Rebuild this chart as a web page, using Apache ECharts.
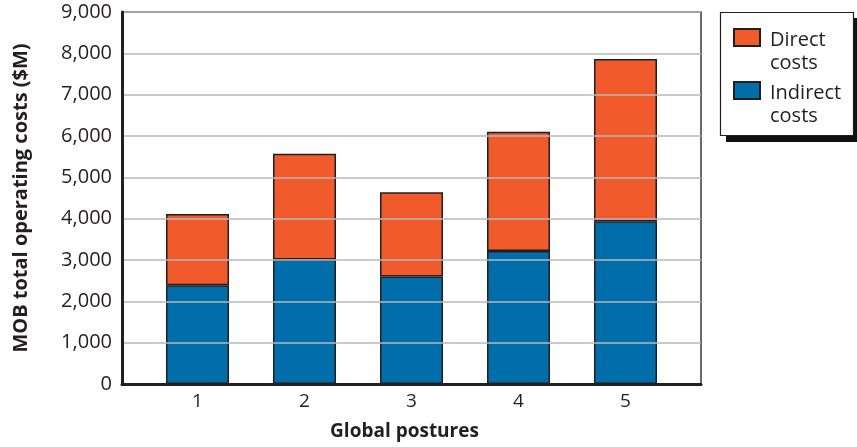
<!DOCTYPE html>
<html>
<head>
<meta charset="utf-8">
<script src="https://cdn.jsdelivr.net/npm/echarts@6/dist/echarts.min.js"></script>
<style>
html,body{margin:0;padding:0;background:#fff;}
#chart{width:857px;height:447px;}
</style>
</head>
<body>
<div id="chart"></div>
<script>
var postures = ['1', '2', '3', '4', '5'];
var indirectCosts = [2390, 3010, 2600, 3220, 3940];
var directCosts = [1720, 2560, 2040, 2880, 3920];
var seriesNames = ['Direct costs', 'Indirect costs'];
var yTicks = [0, 1000, 2000, 3000, 4000, 5000, 6000, 7000, 8000, 9000];

var FONT = '"Open Sans", "Noto Sans", sans-serif';
var TXT = '#231f20';
function fmt(v) { return String(v).replace(/\B(?=(\d{3})+(?!\d))/g, ','); }

var chart = echarts.init(document.getElementById('chart'), null, {renderer: 'canvas'});
var iconPath = 'path://M0,0L26,0L26,17L0,17Z M31,46';
chart.setOption({
  animation: false,
  textStyle: {fontFamily: FONT, color: TXT},
  graphic: [
    {type: 'rect', z: 1, silent: true, shape: {x: 726, y: 18, width: 134, height: 124}, style: {fill: '#111'}},
    {type: 'rect', z: 2, silent: true, shape: {x: 720.5, y: 12.5, width: 133, height: 123}, style: {fill: '#fff', stroke: '#231f20', lineWidth: 1.2}}
  ],
  grid: [
    {left: 122, right: 156, top: 12, bottom: 63, show: true, borderColor: '#3a3a3a', borderWidth: 1.5, backgroundColor: 'transparent'},
    {left: 144, right: 178, top: 12, bottom: 63}
  ],
  xAxis: [
    {gridIndex: 0, type: 'category', data: [''], z: 10,
     axisLine: {show: true, lineStyle: {color: TXT, width: 3}},
     axisTick: {show: false}, axisLabel: {show: false}, splitLine: {show: false}},
    {gridIndex: 1, type: 'category', data: postures,
     axisLine: {show: false}, axisTick: {show: false},
     axisLabel: {fontSize: 19, color: TXT, margin: 8, fontFamily: FONT},
     name: 'Global postures', nameLocation: 'middle', nameGap: 38,
     nameTextStyle: {fontSize: 19, fontWeight: 'bold', color: TXT, fontFamily: FONT, padding: [0, 14, 0, 0]}}
  ],
  yAxis: [
    {gridIndex: 0, type: 'value', min: yTicks[0], max: yTicks[yTicks.length - 1], interval: 1000, z: 10,
     axisLine: {show: true, lineStyle: {color: TXT, width: 3}},
     axisTick: {show: false},
     axisLabel: {fontSize: 20, color: TXT, margin: 10, fontFamily: FONT, formatter: fmt},
     splitLine: {show: true, lineStyle: {color: '#b8b8ba', width: 1.5}},
     name: 'MOB total operating costs ($M)', nameLocation: 'middle', nameGap: 91,
     nameTextStyle: {fontSize: 20, fontWeight: 'bold', color: TXT, fontFamily: FONT}},
    {gridIndex: 1, type: 'value', min: yTicks[0], max: yTicks[yTicks.length - 1], show: false, splitLine: {show: false}}
  ],
  legend: {
    data: seriesNames,
    orient: 'vertical',
    left: 733, top: 28, z: 10,
    padding: 0,
    itemWidth: 31, itemHeight: 46, itemGap: 5,
    icon: iconPath,
    formatter: function (n) { return n.replace(' ', '\n'); },
    textStyle: {fontSize: 20, lineHeight: 23, color: TXT, fontFamily: FONT}
  },
  series: [
    {name: seriesNames[1], type: 'bar', stack: 'total', xAxisIndex: 1, yAxisIndex: 1,
     data: indirectCosts, barWidth: 63,
     itemStyle: {color: '#006eab', borderColor: '#231f20', borderWidth: 1.5}},
    {name: seriesNames[0], type: 'bar', stack: 'total', xAxisIndex: 1, yAxisIndex: 1,
     data: directCosts, barWidth: 63,
     itemStyle: {color: '#f15a2b', borderColor: '#231f20', borderWidth: 1.5}}
  ]
});
</script>
</body>
</html>
